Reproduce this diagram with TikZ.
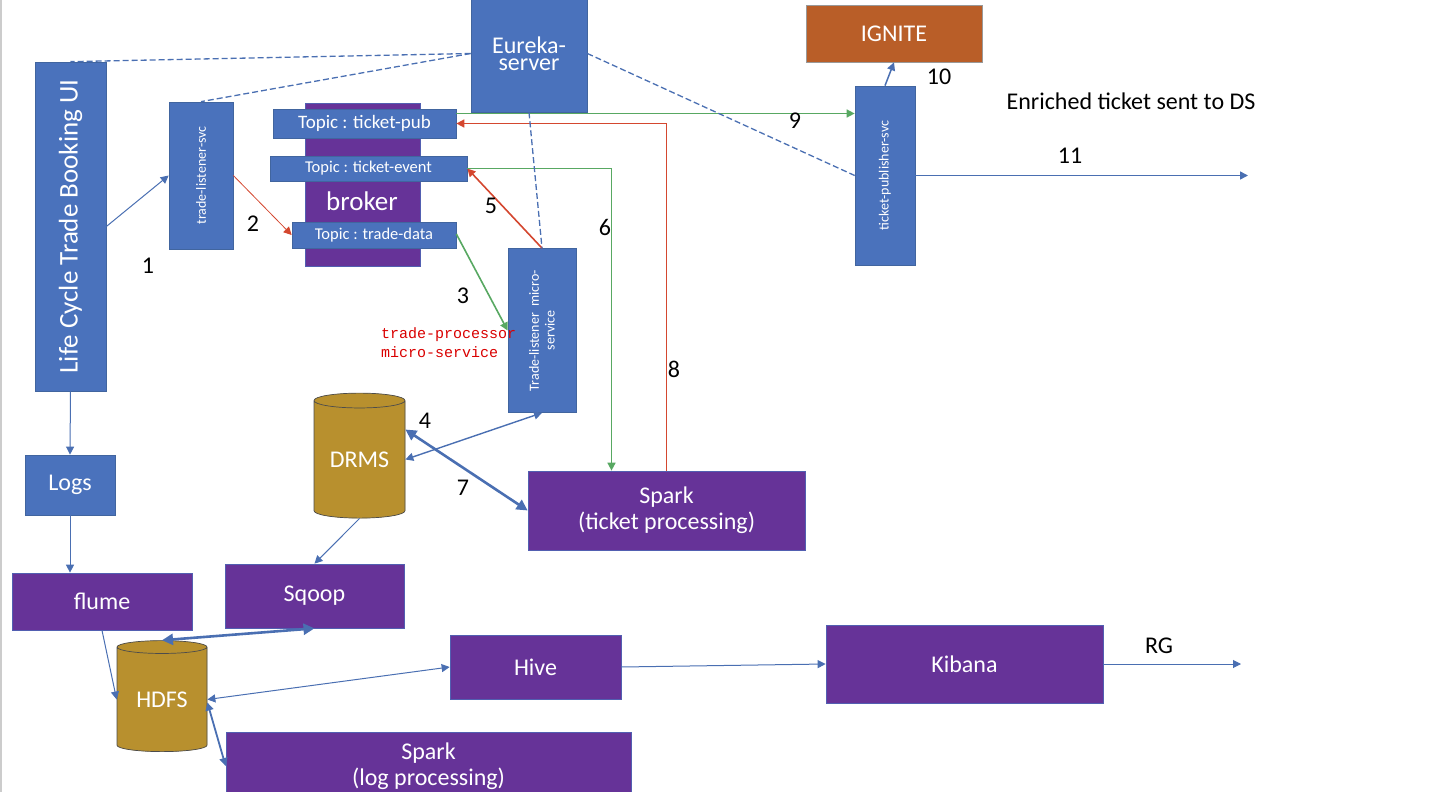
\documentclass[tikz,border=0pt]{standalone}
\usepackage{fontspec}
\setmainfont{Carlito}
\newfontfamily\codefont{Liberation Mono}
\usetikzlibrary{arrows.meta,shapes.geometric}
\definecolor{boxblue}{HTML}{4A72BC}
\definecolor{boxedge}{HTML}{41659F}
\definecolor{boxpurple}{HTML}{663398}
\definecolor{boxorange}{HTML}{B95E28}
\definecolor{dbgold}{HTML}{B8902E}
\definecolor{dbtop}{HTML}{D3BA6C}
\definecolor{linkblue}{HTML}{4A6FB2}
\definecolor{linkgreen}{HTML}{58A862}
\definecolor{linkred}{HTML}{D4472F}
\newcommand{\px}[1]{\fontsize{#1}{#1}\selectfont}
\begin{document}
\begin{tikzpicture}[
        x=1pt, y=-1pt,
        >={Triangle[width=8pt,length=8pt]},
        svc/.style={rectangle, draw=boxedge, fill=boxblue, text=white, inner sep=0pt, align=center, line width=0.7pt},
        tool/.style={svc, fill=boxpurple, draw=boxblue!70!boxpurple},
        db/.style={cylinder, shape border rotate=90, aspect=0.25, draw=black!70, fill=dbgold, cylinder uses custom fill, cylinder body fill=dbgold, cylinder end fill=dbtop, text=white, inner sep=0pt, line width=0.7pt},
        num/.style={text=black, inner sep=0pt},
        link/.style={->, linkblue, line width=1pt},
        twoway/.style={<->, linkblue, line width=1pt},
        heavy/.style={<->, linkblue, line width=2.6pt, >={Triangle[width=11pt,length=11pt]}},
        eureka/.style={linkblue, dashed, line width=1.3pt, dash pattern=on 6pt off 3pt},
        rlink/.style={->, linkred, line width=1.6pt},
        glink/.style={->, linkgreen, line width=1.6pt}
    ]
        \clip (0, 0) rectangle (1438, 792);
        \fill[black!20] (0, 0) rectangle (1.5, 792);

        % Nodes
        \node[svc, minimum width=71pt, minimum height=329pt] (life) at (70.5, 226.5) {\rotatebox{90}{\px{27}Life Cycle Trade Booking UI}};
        \node[svc, minimum width=64pt, minimum height=147pt] (listener) at (201, 175.5) {\rotatebox{90}{\px{14}trade-listener-svc}};
        \node[tool, minimum width=115pt, minimum height=163pt] (broker) at (362.5, 184.5) {};
        \node[text=white, inner sep=0pt] (brokerlabel) at (362, 201) {\px{27}broker};
        \node[svc, minimum width=183pt, minimum height=29pt] (ticketpub) at (364.5, 123.5) {\px{19}Topic : ticket-pub};
        \node[svc, minimum width=197pt, minimum height=25pt] (ticketevent) at (368.5, 168.5) {\px{16.5}Topic : ticket-event};
        \node[svc, minimum width=164pt, minimum height=26pt] (tradedata) at (374, 235) {\px{16.5}Topic : trade-data};
        \node[svc, minimum width=116pt, minimum height=117pt] (eurekasrv) at (529, 53.5) {\px{24}Eureka-\\[5pt]\px{24}server};
        \node[svc, minimum width=68pt, minimum height=164pt] (micro) at (542, 330.5) {\rotatebox{90}{\px{14}\shortstack{Trade-listener\ \ micro-\\[3pt]service}}};
        \node[svc, fill=boxorange, draw=black!40, minimum width=176pt, minimum height=57pt] (ignite) at (894, 33.5) {\px{24}IGNITE};
        \node[svc, minimum width=60pt, minimum height=179pt] (publisher) at (885, 175.5) {\rotatebox{90}{\px{14}ticket-publisher-svc}};
        \node[db, minimum width=91pt, minimum height=125pt] (drms) at (359.5, 459.5) {\px{24}DRMS};
        \node[tool, minimum width=277pt, minimum height=79pt] (sparkticket) at (666.5, 510.5) {\px{24}Spark\\[4pt]\px{24}(ticket processing)};
        \node[svc, minimum width=90pt, minimum height=60pt] (logs) at (70, 485) {\px{24}Logs};
        \node[tool, minimum width=180pt, minimum height=57pt] (flume) at (102, 601.5) {\px{24}flume};
        \node[tool, minimum width=179pt, minimum height=64pt] (sqoop) at (314.5, 596) {\px{24}Sqoop};
        \node[db, minimum width=90pt, minimum height=111pt] (hdfs) at (162, 699.5) {\px{24}HDFS};
        \node[tool, minimum width=171pt, minimum height=64pt] (hive) at (535.5, 667) {\px{24}Hive};
        \node[tool, minimum width=277pt, minimum height=78pt] (kibana) at (964.5, 664) {\px{24}Kibana};
        \node[tool, minimum width=405pt, minimum height=68pt] (sparklog) at (428.5, 766) {\px{24}Spark\\[4pt]\px{24}(log processing)};

        % Free ends
        \coordinate (dsout) at (1248, 175.5);
        \coordinate (rgout) at (1241, 664);

        % Edges
        \draw[link] (life.east) -- (listener.west);
        \draw[->, linkred, line width=0.8pt] (listener.east) -- (tradedata.west);
        \draw[glink] ([yshift=1pt]tradedata.east) -- (micro.west);
        \draw[rlink] (micro.north) -- (ticketevent.east);
        \draw[glink] (ticketevent.east) -| ([xshift=-55pt]sparkticket.north);
        \draw[rlink] (sparkticket.north) |- (ticketpub.east);
        \draw[glink] ([yshift=10pt]ticketpub.east) -- ([yshift=10pt]ticketpub.east -| publisher.west);
        \draw[link, line width=1.5pt] (publisher.north) -- (ignite.south);
        \draw[link, line width=1.5pt] (publisher.east) -- (dsout);
        \draw[eureka] (eurekasrv.west) -- (life.north);
        \draw[eureka] (eurekasrv.west) -- (listener.north);
        \draw[eureka] (eurekasrv.south) -- (micro.north);
        \draw[eureka] (eurekasrv.east) -- (publisher.west);
        \draw[link] (life.south) -- (logs.north);
        \draw[link] (logs.south) -- (logs.south |- flume.north);
        \draw[twoway, line width=1.4pt] (drms.east) -- (micro.south);
        \draw[heavy] ([yshift=30pt]drms.east) -- (sparkticket.west);
        \draw[link] (drms.south) -- (sqoop.north);
        \draw[link] (flume.south) -- (hdfs.west);
        \draw[heavy] (sqoop.south) -- (hdfs.north);
        \draw[twoway] (hdfs.east) -- (hive.west);
        \draw[twoway, line width=1.8pt] ([yshift=-3pt]hdfs.east) -- (sparklog.west);
        \draw[link] (hive.east) -- (kibana.west);
        \draw[link] (kibana.east) -- (rgout);

        % Step numbers
        \node[num] (n1) at (148, 266) {\px{24}1};
        \node[num] (n2) at (253, 224) {\px{24}2};
        \node[num] (n3) at (463, 296) {\px{24}3};
        \node[num] (n4) at (425, 421) {\px{24}4};
        \node[num] (n5) at (491, 206) {\px{24}5};
        \node[num] (n6) at (605, 227) {\px{24}6};
        \node[num] (n7) at (463, 488) {\px{24}7};
        \node[num] (n8) at (674, 369) {\px{24}8};
        \node[num] (n9) at (795, 121) {\px{24}9};
        \node[num] (n10) at (939, 77) {\px{24}10};
        \node[num] (n11) at (1070, 156) {\px{24}11};
        \node[num] (rg) at (1159, 646) {\px{24}RG};
        \node[num] (enriched) at (1131, 101) {\px{24}Enriched ticket sent to DS};

        % Red note over the micro-service box
        \node[anchor=west, inner sep=0pt, text=red!85!black] (note1) at (381, 335) {\codefont\px{15}trade-processor};
        \node[anchor=west, inner sep=0pt, text=red!85!black] (note2) at (381, 352) {\codefont\px{15}micro-service};
    \end{tikzpicture}
\end{document}
